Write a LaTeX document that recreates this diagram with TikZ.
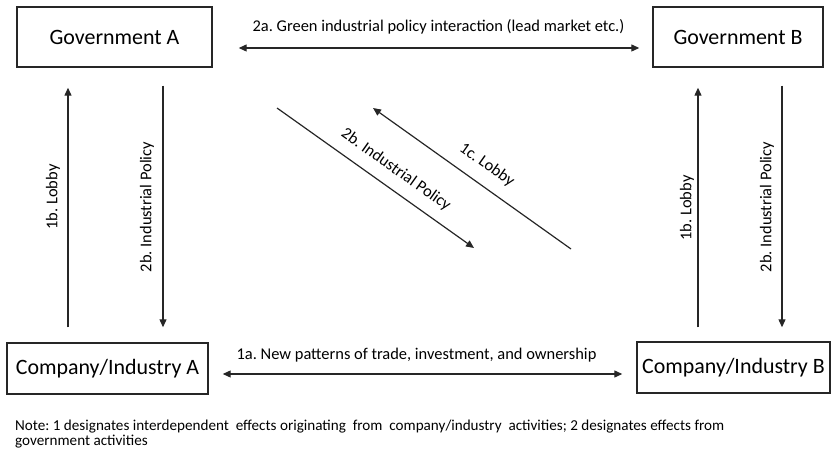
\documentclass[tikz,border=0pt]{standalone}
\usepackage{fontspec}
\setmainfont{Carlito}
\usetikzlibrary{arrows.meta}
\frenchspacing

\begin{document}
\begin{tikzpicture}[
      x=1bp, y=-1bp,
      actor/.style={draw=black!85,line width=1.4bp,inner sep=0pt,font=\fontsize{22}{24}\selectfont},
      flow/.style={line width=1.2bp,draw=black!85,-{Triangle[length=8bp,width=7bp]}},
      both/.style={flow,{Triangle[length=8bp,width=7bp]}-{Triangle[length=8bp,width=7bp]}},
      lbl/.style={font=\fontsize{16.5}{18}\selectfont,inner sep=0pt}]
    \useasboundingbox (0,0) rectangle (831,455);
    % governments and firms
    \node[actor,minimum width=195bp,minimum height=60bp] (govA) at (114.5,37) {Government A};
    \node[actor,minimum width=170bp,minimum height=60bp] (govB) at (738,37) {Government B};
    \node[actor,minimum width=201bp,minimum height=51bp] (comA) at (107.5,368.5) {Company/Industry A};
    \node[actor,minimum width=193bp,minimum height=51bp] (comB) at (733.5,367.5) {Company/Industry B};
    % horizontal interactions
    \draw[both,shorten <=26bp,shorten >=13bp] (govA.east |- 0,48) -- (govB.west |- 0,48)
      node[lbl,midway,above=13bp,xshift=6bp]{2a. Green industrial policy interaction (lead market etc.)};
    \draw[both,shorten <=14bp,shorten >=14bp] (comA.east |- 0,374) -- (comB.west |- 0,374)
      node[lbl,midway,above=11bp,xshift=-6bp]{1a. New patterns of trade, investment, and ownership};
    % left column
    \draw[flow,shorten <=15bp,shorten >=20bp] (comA.north -| 68,0) -- (govA.south -| 68,0);
    \draw[flow,shorten <=18bp,shorten >=15bp] (govA.south -| 163,0) -- (comA.north -| 163,0);
    \node[lbl,rotate=90] (lobA) at (53,197) {1b. Lobby};
    \node[lbl,rotate=90] (polA) at (147,207) {2b. Industrial Policy};
    % right column
    \draw[flow,shorten <=14bp,shorten >=20bp] (comB.north -| 698,0) -- (govB.south -| 698,0);
    \draw[flow,shorten <=18bp,shorten >=14bp] (govB.south -| 782,0) -- (comB.north -| 782,0);
    \node[lbl,rotate=90] (lobB) at (687,208) {1b. Lobby};
    \node[lbl,rotate=90] (polB) at (767,207) {2b. Industrial Policy};
    % cross-border links
    \coordinate (d1) at (277,108);
    \coordinate (d2) at (474,248);
    \coordinate (d3) at (571,249);
    \coordinate (d4) at (373,108);
    \draw[flow] (d1) -- (d2);
    \draw[flow] (d3) -- (d4);
    \node[lbl,rotate=-35.4] (polX) at (396,170) {2b. Industrial Policy};
    \node[lbl,rotate=-35.4] (lobX) at (487,165) {1c. Lobby};
    % note
    \node[lbl,anchor=north west,align=left,font=\fontsize{15.2}{14.5}\selectfont] (note) at (15,420)
      {Note: 1 designates interdependent\ \ effects originating\ \ from\ \ company/industry\ \ activities; 2 designates effects from\\
       government activities};
  \end{tikzpicture}
\end{document}
